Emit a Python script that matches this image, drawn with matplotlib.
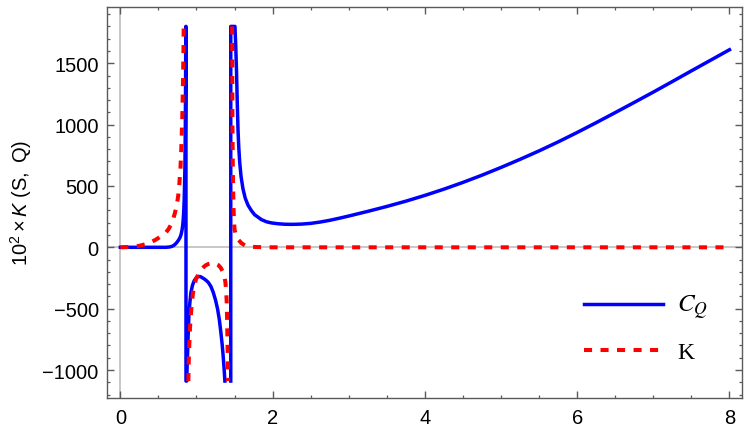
import matplotlib.pyplot as plt
import numpy as np

# values (curves clipped at 1800 / -1090)
blue_left_x = [0.0, 0.3, 0.6, 0.65, 0.68, 0.70, 0.72, 0.74, 0.76, 0.775, 0.787, 0.80, 0.81, 0.818, 0.825,
               0.832, 0.838, 0.843, 0.848, 0.853, 0.857, 0.86, 0.862]
blue_left_y = [0, 0, 0, 3, 8, 15, 25, 38, 55, 70, 85, 110, 140, 175, 220,
               290, 380, 500, 650, 950, 1400, 1800, 1800]
blue_mid_x = [0.862, 0.872, 0.878, 0.885, 0.892, 0.90, 0.913, 0.927, 0.947, 0.97, 0.995, 1.025, 1.055,
              1.09, 1.12, 1.155, 1.19, 1.22, 1.25, 1.277, 1.30, 1.32, 1.337, 1.35, 1.362, 1.373]
blue_mid_y = [-1090, -1090, -950, -830, -690, -558, -450, -367, -310, -272, -250, -237, -240,
              -253, -266, -286, -320, -367, -430, -503, -590, -693, -790, -884, -985, -1090]
blue_right_x = [1.45, 1.45, 1.505, 1.515, 1.525, 1.535, 1.545, 1.555, 1.568, 1.585, 1.61, 1.64,
                1.676, 1.72, 1.764, 1.81, 1.851, 1.92, 1.982, 2.07, 2.158, 2.25, 2.375, 2.5, 2.625,
                2.75, 2.875, 3.0, 3.25, 3.5, 3.75, 4.0, 4.25, 4.5, 4.75, 5.0, 5.25, 5.5, 5.75,
                6.0, 6.25, 6.5, 6.75, 7.0, 7.25, 7.5, 7.75, 8.0]
blue_right_y = [-1090, 1800, 1800, 1650, 1450, 1190, 962, 816, 690, 578, 478, 401,
                344, 300, 265, 245, 226, 208, 199, 192, 188, 187, 189, 195, 206,
                220, 237, 255, 293, 333, 376, 423, 474, 529, 588, 651, 717, 786, 859,
                936, 1016, 1098, 1181, 1265, 1351, 1438, 1524, 1610]

red_left_x = [0.0, 0.12, 0.24, 0.36, 0.46, 0.56, 0.60, 0.635, 0.665, 0.69, 0.715, 0.74, 0.76, 0.775,
              0.79, 0.80, 0.808, 0.815, 0.82, 0.825, 0.829, 0.832]
red_left_y = [0, 3, 11, 30, 60, 100, 122, 150, 185, 225, 275, 340, 420, 520,
              650, 800, 950, 1100, 1270, 1450, 1620, 1800]
red_mid_x = [0.893, 0.90, 0.907, 0.914, 0.925, 0.936, 0.95, 0.97, 0.995, 1.025, 1.055, 1.09, 1.12,
             1.155, 1.19, 1.22, 1.25, 1.285, 1.32, 1.35, 1.367, 1.38, 1.39, 1.397, 1.401, 1.405,
             1.41, 1.415]
red_mid_y = [-1090, -884, -770, -666, -560, -476, -390, -313, -258, -218, -186, -163, -147,
             -136, -130, -128, -132, -144, -168, -204, -240, -286, -360, -449, -560, -693,
             -880, -1090]
red_right_x = [1.468, 1.472, 1.478, 1.485, 1.492, 1.50, 1.515, 1.53, 1.548, 1.568, 1.59, 1.62, 1.65,
               1.676, 1.73, 1.8, 1.9, 2.0, 3.0, 4.0, 5.0, 6.0, 7.0, 8.0]
red_right_y = [1800, 1000, 600, 350, 220, 144, 105, 80, 62, 49, 34, 22, 13,
               8, 4, 2, 1, 0, 0, 0, 0, 0, 0, 0]

x_ticks = [0, 2, 4, 6, 8]
y_ticks = [-1000, -500, 0, 500, 1000, 1500]

plt.rcParams['font.family'] = ['Liberation Sans', 'DejaVu Sans']
plt.rcParams['mathtext.fontset'] = 'custom'
plt.rcParams['mathtext.rm'] = 'Liberation Sans'
plt.rcParams['mathtext.it'] = 'Liberation Sans:italic'

frame_col = '#5a5a5a'

fig = plt.figure(figsize=(7.5, 4.31), dpi=100)
ax = fig.add_axes([0.1427, 0.0731, 0.8467, 0.9077])

# blue C_Q: left branch joined to middle one through the pole, right branch separate
bx = blue_left_x + blue_mid_x + [np.nan] + blue_right_x
by = blue_left_y + blue_mid_y + [np.nan] + blue_right_y
ax.plot(bx, by, color='#0000ff', lw=2.5, solid_joinstyle='round', label=r'$C_Q$', zorder=3)

rx = red_left_x + [np.nan] + red_mid_x + [np.nan] + red_right_x
ry = red_left_y + [np.nan] + red_mid_y + [np.nan] + red_right_y
ax.plot(rx, ry, color='#ff0000', lw=2.9, dashes=(2.0, 2.1), label='K', zorder=4)

# Mathematica-style axes through the origin
ax.axhline(0, color='#c4c4c4', lw=1.3, zorder=1)
ax.axvline(0, color='#c4c4c4', lw=1.3, zorder=1)

ax.set_xlim(-0.175, 8.165)
ax.set_ylim(-1232, 1956)
ax.set_xticks(x_ticks)
ax.set_yticks(y_ticks)
ax.set_yticklabels([str(v).replace('-', '\u2212') for v in y_ticks])
ax.set_xticks(np.arange(0, 8.5, 0.5), minor=True)
ax.set_yticks(np.arange(-1200, 1901, 100), minor=True)
ax.tick_params(which='both', direction='in', top=True, right=True, color=frame_col,
               labelsize=14.5, labelcolor='black')
ax.tick_params(which='major', length=5, width=1)
ax.tick_params(which='minor', length=2.5, width=0.9)
ax.tick_params(axis='y', pad=6)
ax.tick_params(axis='x', pad=7)
for s in ax.spines.values():
    s.set_color(frame_col)
    s.set_linewidth(1.0)

fig.text(21 / 750, 1 - 203 / 431, r'$10^2\times\mathit{K}\ (\mathrm{S},\ \mathrm{Q})$',
         rotation=90, ha='center', va='center', fontsize=14.5)

leg = ax.legend(loc='upper left', bbox_to_anchor=(0.751, 0.27), frameon=False,
                borderpad=0, borderaxespad=0, handlelength=3.35, handletextpad=0.6,
                labelspacing=0.85, prop={'family': 'Liberation Serif', 'size': 17})
leg.get_texts()[0].set_math_fontfamily('stix')
leg.get_texts()[0].set_fontsize(18)

fig.savefig('out.png', dpi=100)
